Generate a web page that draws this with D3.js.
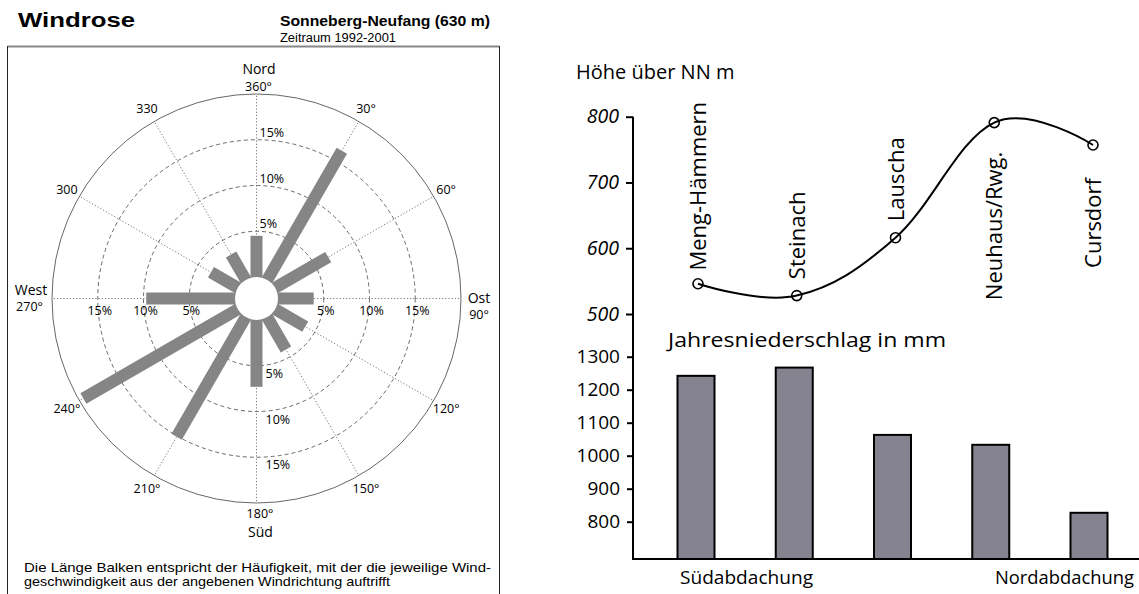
<!DOCTYPE html>
<html>
<head>
  <meta charset="utf-8">
  <title>Windrose und Höhenprofil</title>
  <script src="https://d3js.org/d3.v7.min.js"></script>
  <style>
    body { margin: 0; background: #fff; }
    svg { display: block; }
  </style>
</head>
<body>
<svg id="chart" width="1139" height="594"></svg>
<script>
// Windrose data (Sonneberg-Neufang, 1992-2001)
const windDirections = [0, 30, 60, 90, 120, 150, 180, 210, 240, 270, 300, 330];
const windFreq = [4.5, 16.3, 6.7, 3.9, 3.8, 4.1, 7.3, 15.1, 19.5, 9.7, 3.4, 3.2];
const ringValues = [5, 10, 15];
const dirLabels = ["360°", "30°", "60°", "90°", "120°", "150°", "180°", "210°", "240°", "270°", "300", "330"];

// Height profile
const stations = ["Meng-Hämmern", "Steinach", "Lauscha", "Neuhaus/Rwg.", "Cursdorf"];
const heights = [546, 528, 616, 791, 757];
const heightTicks = [500, 600, 700, 800];

// Annual precipitation
const precip = [1242, 1267, 1063, 1033, 827];
const precipTicks = [800, 900, 1000, 1100, 1200, 1300];

const svg = d3.select("#chart");

// ---------- left panel: windrose ----------
svg.append("text").attr("x", 18).attr("y", 27)
  .attr("font-family", "Liberation Sans, Arial").attr("font-weight", "bold")
  .attr("font-size", 20).attr("textLength", 117).attr("lengthAdjust", "spacingAndGlyphs")
  .text("Windrose");
svg.append("text").attr("x", 280).attr("y", 26)
  .attr("font-family", "Liberation Sans, Arial").attr("font-weight", "bold")
  .attr("font-size", 15).attr("textLength", 210).attr("lengthAdjust", "spacingAndGlyphs")
  .text("Sonneberg-Neufang (630 m)");
svg.append("text").attr("x", 280).attr("y", 41.5)
  .attr("font-family", "Liberation Sans, Arial")
  .attr("font-size", 12.5).attr("textLength", 116).attr("lengthAdjust", "spacingAndGlyphs")
  .text("Zeitraum 1992-2001");

// frame
svg.append("line").attr("x1", 7.5).attr("x2", 499.5).attr("y1", 46.5).attr("y2", 46.5)
  .attr("stroke", "#888").attr("stroke-width", 2);
svg.append("line").attr("x1", 7.5).attr("x2", 7.5).attr("y1", 46).attr("y2", 600)
  .attr("stroke", "#222").attr("stroke-width", 1);
svg.append("line").attr("x1", 499.5).attr("x2", 499.5).attr("y1", 46).attr("y2", 600)
  .attr("stroke", "#222").attr("stroke-width", 1);

const cx = 256.5, cy = 298.5;
const r = d3.scaleLinear().domain([0, 20]).range([21.5, 204.5]);
const rose = svg.append("g").attr("transform", `translate(${cx},${cy})`);

// outer circle
rose.append("circle").attr("r", r(20)).attr("fill", "none")
  .attr("stroke", "#555").attr("stroke-width", 0.9);

// dashed rings
rose.selectAll(".ring").data(ringValues).join("circle")
  .attr("class", "ring").attr("r", d => r(d)).attr("fill", "none")
  .attr("stroke", "#444").attr("stroke-width", 0.8).attr("stroke-dasharray", "4,3");

// dotted spokes
rose.selectAll(".spoke").data(windDirections).join("line")
  .attr("class", "spoke")
  .attr("x1", 0).attr("y1", 0)
  .attr("x2", d => r(20) * Math.sin(d * Math.PI / 180))
  .attr("y2", d => -r(20) * Math.cos(d * Math.PI / 180))
  .attr("stroke", "#555").attr("stroke-width", 0.8).attr("stroke-dasharray", "1.2,2");

// bars
rose.selectAll(".bar").data(windDirections).join("rect")
  .attr("class", "bar")
  .attr("transform", d => `rotate(${d})`)
  .attr("x", -6).attr("width", 12)
  .attr("y", (d, i) => -r(windFreq[i]))
  .attr("height", (d, i) => r(windFreq[i]))
  .attr("fill", "#858585");

// white hole
rose.append("circle").attr("r", r(0)).attr("fill", "#fff");

// direction labels
const labelFont = "Open Sans, Noto Sans, sans-serif";
rose.selectAll(".dir").data(windDirections).join("text")
  .attr("class", "dir")
  .filter(d => d % 90 !== 0)
  .attr("x", d => 219 * Math.sin(d * Math.PI / 180))
  .attr("y", d => -219 * Math.cos(d * Math.PI / 180) + 4.5)
  .attr("text-anchor", "middle")
  .attr("font-family", labelFont).attr("font-size", 12.5)
  .text(d => dirLabels[windDirections.indexOf(d)]);

const cardinal = [
  {t: "Nord", x: 2.5, y: -225, s: 14},
  {t: dirLabels[0], x: 2, y: -207.5, s: 12.5},
  {t: "Ost", x: 222.5, y: 4, s: 14},
  {t: dirLabels[3], x: 222.5, y: 20, s: 12.5},
  {t: dirLabels[6], x: 3.5, y: 219.5, s: 12.5},
  {t: "Süd", x: 4, y: 238, s: 14},
  {t: "West", x: -225.5, y: -3.5, s: 14},
  {t: dirLabels[9], x: -227, y: 12, s: 12.5}
];
rose.selectAll(".card").data(cardinal).join("text")
  .attr("class", "card")
  .attr("x", d => d.x).attr("y", d => d.y)
  .attr("text-anchor", "middle")
  .attr("font-family", labelFont).attr("font-size", d => d.s)
  .text(d => d.t);

// percent labels along the north spoke
rose.selectAll(".pn").data(ringValues).join("text")
  .attr("class", "pn")
  .attr("x", 3).attr("y", d => -r(d) - 3)
  .attr("font-family", labelFont).attr("font-size", 12.5)
  .text(d => d + "%");
// along the south spoke
rose.selectAll(".ps").data(ringValues).join("text")
  .attr("class", "ps")
  .attr("x", 9).attr("y", d => r(d) + 12)
  .attr("font-family", labelFont).attr("font-size", 12.5)
  .text(d => d + "%");
// along east and west
rose.selectAll(".pe").data(ringValues).join("text")
  .attr("class", "pe")
  .attr("x", d => r(d) + 2).attr("y", 16.5)
  .attr("text-anchor", "middle")
  .attr("font-family", labelFont).attr("font-size", 12.5)
  .text(d => d + "%");
rose.selectAll(".pw").data(ringValues).join("text")
  .attr("class", "pw")
  .attr("x", d => -r(d) + 2).attr("y", 16.5)
  .attr("text-anchor", "middle")
  .attr("font-family", labelFont).attr("font-size", 12.5)
  .text(d => d + "%");

// note below
const note = svg.append("text")
  .attr("font-family", "Liberation Sans, Arial").attr("font-size", 13.5);
note.append("tspan").attr("x", 24).attr("y", 571.5)
  .attr("textLength", 467).attr("lengthAdjust", "spacingAndGlyphs")
  .text("Die Länge Balken entspricht der Häufigkeit, mit der die jeweilige Wind-");
note.append("tspan").attr("x", 24).attr("y", 585.5)
  .attr("textLength", 366).attr("lengthAdjust", "spacingAndGlyphs")
  .text("geschwindigkeit aus der angebenen Windrichtung auftrifft");

// ---------- right panel ----------
const font = "Open Sans, Noto Sans, sans-serif";
const axisX = 633;

// height profile scales
const yH = d3.scaleLinear().domain([500, 800]).range([314, 116.7]);
const xP = d3.scalePoint().domain(stations).range([698, 1093]);

svg.append("text").attr("x", 576).attr("y", 79)
  .attr("font-family", font).attr("font-size", 20)
  .text("Höhe über NN m");

const gH = svg.append("g").attr("transform", `translate(${axisX},0)`)
  .call(d3.axisLeft(yH).tickValues(heightTicks).tickSize(7).tickPadding(7).tickFormat(d3.format("d")));
gH.select(".domain").remove();
gH.selectAll(".tick line").attr("stroke", "#000").attr("stroke-width", 2);
gH.selectAll(".tick text").attr("font-family", font).attr("font-size", 19.5)
  .attr("font-style", "italic").attr("fill", "#000");

// line
const line = d3.line()
  .x((d, i) => xP(stations[i]))
  .y(d => yH(d))
  .curve(d3.curveCardinal.tension(-0.1));
svg.append("path").datum(heights)
  .attr("d", line).attr("fill", "none")
  .attr("stroke", "#000").attr("stroke-width", 2);

svg.selectAll(".pt").data(heights).join("circle")
  .attr("class", "pt")
  .attr("cx", (d, i) => xP(stations[i])).attr("cy", d => yH(d))
  .attr("r", 5).attr("fill", "none").attr("stroke", "#000").attr("stroke-width", 1.6);

// station labels, vertical (label foot given in metres on the height scale)
const labelFoot = [566, 553, 641, 521, 570];
svg.selectAll(".st").data(stations).join("text")
  .attr("class", "st")
  .attr("transform", (d, i) => `translate(${xP(d) + 8},${yH(labelFoot[i])}) rotate(-90)`)
  .attr("font-family", font).attr("font-size", 22)
  .text(d => d);

// precipitation bars
const yP = d3.scaleLinear().domain([800, 1300]).range([521.7, 356.7]);
const xB = d3.scalePoint().domain(stations).range([696, 1089]);
const base = 559;

svg.append("text").attr("x", 668).attr("y", 347)
  .attr("font-family", font).attr("font-size", 20)
  .attr("textLength", 278).attr("lengthAdjust", "spacingAndGlyphs")
  .text("Jahresniederschlag in mm");

const gP = svg.append("g").attr("transform", `translate(${axisX},0)`)
  .call(d3.axisLeft(yP).tickValues(precipTicks).tickSize(6).tickPadding(7).tickFormat(d3.format("d")));
gP.select(".domain").remove();
gP.selectAll(".tick line").attr("stroke", "#000").attr("stroke-width", 2);
gP.selectAll(".tick text").attr("font-family", font).attr("font-size", 19).attr("fill", "#000");

svg.selectAll(".pbar").data(precip).join("rect")
  .attr("class", "pbar")
  .attr("x", (d, i) => xB(stations[i]) - 18.5).attr("width", 37)
  .attr("y", d => yP(d)).attr("height", d => base - yP(d))
  .attr("fill", "#84838f").attr("stroke", "#000").attr("stroke-width", 2);

// axes lines
svg.append("line").attr("x1", axisX).attr("x2", axisX).attr("y1", yH(800)).attr("y2", base + 1)
  .attr("stroke", "#000").attr("stroke-width", 2);
svg.append("line").attr("x1", axisX).attr("x2", 1139).attr("y1", base).attr("y2", base)
  .attr("stroke", "#000").attr("stroke-width", 2);

svg.append("text").attr("x", 680).attr("y", 584)
  .attr("font-family", font).attr("font-size", 18)
  .attr("textLength", 133).attr("lengthAdjust", "spacingAndGlyphs")
  .text("Südabdachung");
svg.append("text").attr("x", 995).attr("y", 584)
  .attr("font-family", font).attr("font-size", 18)
  .attr("textLength", 139).attr("lengthAdjust", "spacingAndGlyphs")
  .text("Nordabdachung");
</script>
</body>
</html>
